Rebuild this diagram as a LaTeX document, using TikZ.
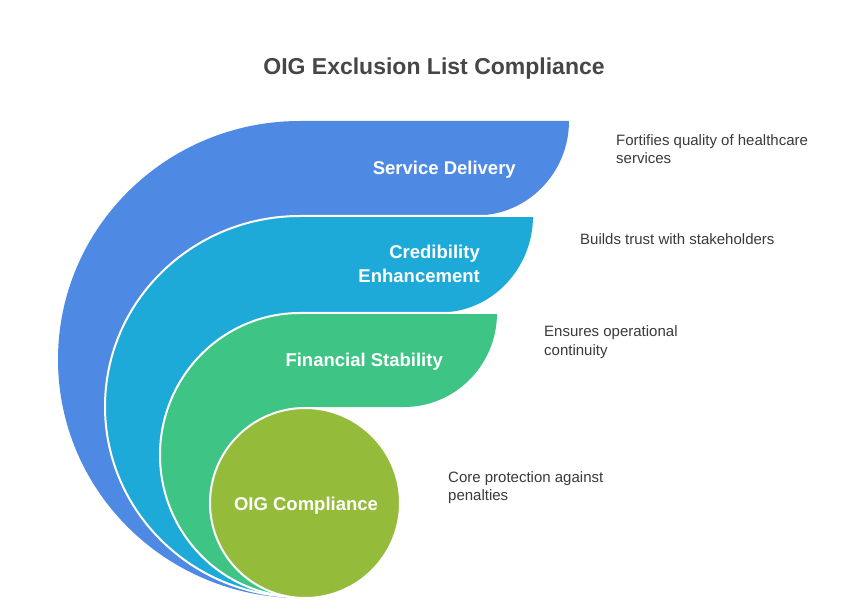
\documentclass[tikz,border=0pt]{standalone}
\usepackage{fontspec}
\setmainfont{Liberation Sans}
\definecolor{cBlue}{HTML}{4E89E4}
\definecolor{cCyan}{HTML}{1EAAD8}
\definecolor{cGreen}{HTML}{3EC484}
\definecolor{cOlive}{HTML}{94BC3A}
\definecolor{titleGray}{HTML}{464646}
\definecolor{descGray}{HTML}{3A3A3A}
\begin{document}
\begin{tikzpicture}[x=1pt,y=-1pt,
  edge/.style={draw=white, line width=2pt, line join=round, line cap=round},
  lab/.style={text=white, inner sep=0pt, font=\fontsize{18.5}{24}\selectfont\bfseries, align=right},
  desc/.style={text=descGray, inner sep=0pt, anchor=base west, font=\fontsize{15}{18}\selectfont, align=left},
  ttl/.style={text=titleGray, inner sep=0pt, anchor=base, font=\fontsize{23}{28}\selectfont\bfseries}]
\useasboundingbox (0,0) rectangle (854,612);
\fill[white] (0,0) rectangle (854,612);
% Service Delivery band
\fill[cBlue] (300,598) .. controls (166.3,598) and (58,491.2) .. (58,359.5)
  .. controls (58,227.8) and (166.3,121) .. (300,121) -- (569,121)
  .. controls (569,173) and (527.4,215.5) .. (476,215.5) -- (300,215.5) -- cycle;
% Credibility band
\fill[cCyan] (300,597) .. controls (192.3,597) and (105,511.7) .. (105,406.5)
  .. controls (105,301.3) and (192.3,216) .. (300,216) -- (533,216)
  .. controls (533,269) and (491.4,312.5) .. (440,312.5) -- (300,312.5) -- cycle;
\path[edge] (300,597) .. controls (192.3,597) and (105,511.7) .. (105,406.5)
  .. controls (105,301.3) and (192.3,216) .. (300,216) -- (533,216);
% Financial band
\fill[cGreen] (300,597) .. controls (222.7,597) and (160,533.4) .. (160,455)
  .. controls (160,376.6) and (222.7,313) .. (300,313) -- (497,313)
  .. controls (497,364.9) and (455.4,407) .. (404,407) -- (300,407) -- cycle;
\path[edge] (300,597) .. controls (222.7,597) and (160,533.4) .. (160,455)
  .. controls (160,376.6) and (222.7,313) .. (300,313) -- (497,313);
% Core circle
\path[fill=cOlive, edge] (305,503) circle[radius=95pt];
% labels
\node[ttl] (title) at (434,75) {OIG Exclusion List Compliance};
\node[lab, anchor=base east] (sd) at (516,175) {Service Delivery};
\node[lab, anchor=base east] (ce) at (480,283) {Credibility\\Enhancement};
\node[lab, anchor=base east] (fs) at (443,366.5) {Financial Stability};
\node[lab, anchor=base] (oig) at (306,510) {OIG Compliance};
% descriptions
\node[desc] (d1) at (616,164) {Fortifies quality of healthcare\\services};
\node[desc] (d2) at (580,245) {Builds trust with stakeholders};
\node[desc] (d3) at (544,355) {Ensures operational\\continuity};
\node[desc] (d4) at (448,500) {Core protection against\\penalties};
\end{tikzpicture}
\end{document}
